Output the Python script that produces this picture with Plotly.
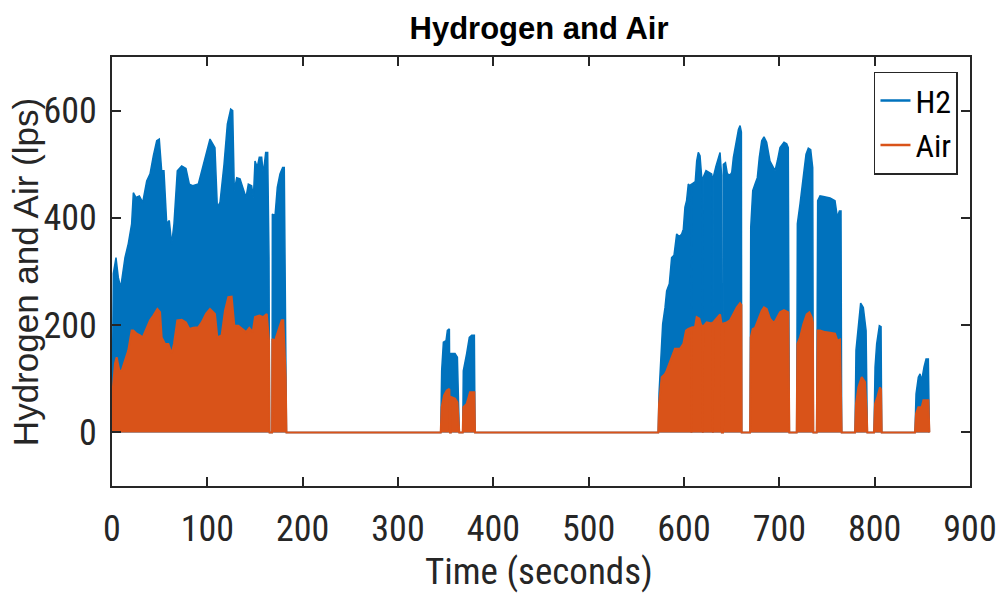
import plotly.graph_objects as go

# Hydrogen flow envelope (lps) against time (s); zeros mark idle gaps between bursts
h2_time = [
    0, 0.5, 1.4, 4.2, 6.6, 9.1, 13.6, 17.1, 20.6, 22.4, 25.2, 28.7, 32.2, 36.4, 39.9,
    43.4, 46.9, 49.6, 52.1, 54.5, 57.4, 60.1, 62.6, 65, 68.5, 73.1, 77.6, 81.1, 84.6,
    90.5, 94.1, 98.6, 102.8, 108, 110.5, 113.3, 117.5, 121, 124.5, 126.6, 128.3, 130.8,
    134.3, 137.1, 140.6, 143, 146.5, 148.3, 150, 152.4, 154.5, 157, 158.7, 161.2, 163.3,
    164.7, 165.3, 167.9, 168.2, 171, 173.4, 176.2, 179, 180.7, 182.2, 183,
    344.8, 345.8, 347.6, 350.4, 351.8, 353.9, 354.6, 355.4, 355.6, 359.8, 362.3, 364.3,
    367.9, 368.5, 372, 374.8, 377.3, 380.1, 380.8,
    573, 573.8, 575, 576.6, 577.6, 580.1, 581.8, 584.6, 587, 589.5, 590.5, 592.3, 595,
    597.6, 599.3, 601, 602.7, 604.5, 606.2, 607.5, 607.8, 608.1, 610.5, 611.5, 613.3,
    615, 616.8, 618.6, 619.4, 619.7, 620, 623.1, 625.5, 629, 630, 630.3, 630.6, 633.6,
    636, 637.8, 639.4, 639.7, 640.9, 641.3, 643.5, 645.5, 648.5, 650.1, 651.8, 654.6,
    657.1, 658.8, 660.2, 660.5,
    669.3, 670, 672.1, 674.5, 676.9, 679, 681.5, 683.9, 686.7, 690.2, 693.7, 695.5,
    697.9, 700.7, 704.9, 707.7, 709.4, 710.5,
    718.2, 718.9, 721.7, 723.5, 725.9, 728, 730.4, 732.9, 735, 735.7,
    739.2, 740.2, 742.7, 746.2, 749.7, 753.2, 758.4, 760.9, 763, 764.7, 765.4,
    779.4, 780.4, 782.9, 785.3, 788.1, 791, 792.3,
    799.3, 800.4, 802.1, 804.9, 806.7, 807.4,
    842.3, 843.4, 845.8, 847.6, 849.3, 851.8, 853.9, 856.3, 857.4,
]
h2_flow = [
    0, 150, 296, 326, 289, 270, 326, 352, 389, 447, 438, 441, 429, 469, 482,
    516, 544, 547, 488, 488, 389, 395, 351, 389, 488, 497, 492, 463, 460,
    463, 488, 519, 547, 531, 420, 429, 500, 575, 603, 600, 451, 475,
    473, 457, 438, 463, 460, 438, 506, 495, 513, 513, 482, 522, 522,
    326, 0, 0, 407, 404, 457, 482, 494, 494, 252, 0,
    0, 115, 168, 171, 190, 193, 0, 0, 147, 147, 140, 0,
    0, 115, 147, 177, 181, 181, 0,
    0, 72, 122, 165, 202, 233, 264, 277, 326, 330, 345, 370, 365,
    370, 379, 420, 432, 463, 460, 463, 0, 463, 466, 460, 506,
    522, 516, 475, 475, 0, 475, 488, 485, 482, 470, 0, 475, 497,
    513, 522, 480, 0, 0, 500, 503, 482, 480, 485, 513, 544,
    565, 572, 560, 0,
    0, 382, 451, 463, 475, 513, 544, 551, 541, 506, 494, 488,
    506, 531, 541, 538, 531, 0,
    0, 389, 426, 457, 488, 519, 530, 527, 494, 0,
    0, 432, 441, 440, 439, 437, 432, 401, 413, 413, 0,
    0, 153, 202, 241, 233, 190, 0,
    0, 122, 165, 199, 197, 0,
    0, 72, 103, 109, 97, 122, 137, 137, 0,
]

# Air flow envelope (lps) against time (s)
air_time = [
    0, 0.7, 3.1, 4.9, 7.7, 10.1, 13.6, 17.1, 20.6, 22.4, 25.9, 29.4, 32.2, 36.4, 39.9,
    43.4, 47.6, 50.4, 52.1, 55.6, 59.1, 62.6, 65, 68.5, 73.1, 77.6, 81.1, 85.3, 90.5,
    94.1, 98.6, 102.8, 108, 110.5, 115, 118.5, 122, 125.5, 128.3, 132.5, 137.1, 140.6,
    144, 147.6, 150, 154.5, 158.7, 162.3, 164.7, 165.3, 167.9, 168.2, 171, 174.5, 178,
    179.7, 182.2, 183,
    344.8, 345.8, 348.3, 351.1, 353.9, 354.6, 355.4, 355.6, 359.8, 362.3, 364.3,
    367.9, 368.5, 372, 375.5, 380.1, 380.8,
    573, 573.8, 576.6, 580.1, 581.8, 587, 590.5, 595.8, 599.3, 602.1, 604.5, 607.5,
    607.8, 608.1, 609.1, 611.5, 613.3, 616.1, 618.6, 619.4, 619.7, 620, 621, 623.8,
    629, 630, 630.3, 630.6, 632.4, 637.8, 639.4, 639.7, 640.9, 641.3, 644.8, 648.3,
    651.8, 655.3, 658.8, 660.2, 660.5,
    669.3, 670, 672.1, 674.5, 677.9, 681.5, 683.9, 686.7, 690.2, 693.7, 695.5, 697.9,
    700.7, 704.9, 709.4, 710.5,
    718.2, 718.9, 721.7, 725.2, 728.7, 731.5, 733.9, 735.2, 735.7,
    739.2, 740.2, 742.7, 747.9, 753.2, 758.4, 760.9, 763.6, 765.4,
    779.4, 780.4, 782.9, 786.4, 789.9, 791.6, 792.3,
    799.3, 800.4, 802.8, 805.6, 806.7, 807.4,
    842.3, 843.4, 845.8, 849.3, 851.1, 856.3, 857.4,
]
air_flow = [
    0, 78, 128, 140, 115, 115, 134, 153, 190, 190, 184, 181, 177, 196, 209,
    218, 230, 224, 177, 165, 165, 147, 165, 209, 210, 205, 193, 195, 196,
    205, 221, 230, 221, 177, 181, 227, 252, 253, 199, 199, 193, 187,
    195, 187, 215, 218, 215, 221, 171, 0, 0, 174, 171, 190, 209,
    209, 103, 0,
    0, 47, 69, 78, 81, 0, 0, 66, 63, 56, 0,
    0, 47, 53, 75, 75, 0,
    0, 53, 103, 109, 115, 140, 156, 156, 165, 190, 193, 195,
    0, 195, 196, 196, 215, 212, 196, 199, 0, 199, 199, 205,
    203, 205, 0, 205, 209, 220, 203, 0, 0, 203, 205, 209,
    221, 233, 241, 238, 0,
    0, 177, 193, 195, 209, 227, 233, 230, 212, 205, 207, 216,
    224, 228, 224, 0,
    0, 165, 177, 202, 220, 224, 215, 205, 0,
    0, 190, 190, 187, 186, 184, 171, 173, 0,
    0, 53, 84, 103, 94, 40, 0,
    0, 53, 66, 84, 80, 0,
    0, 35, 47, 47, 60, 60, 0,
]

x_ticks = [0, 100, 200, 300, 400, 500, 600, 700, 800, 900]
y_ticks = [0, 200, 400, 600]

H2_COLOR = "#0072BD"
AIR_COLOR = "#D95319"
AXIS_COLOR = "#262626"
CONDENSED = "Roboto Condensed, Liberation Sans, sans-serif"
REGULAR = "Liberation Sans, Arial, sans-serif"

fig = go.Figure()

fig.add_trace(go.Scatter(
    x=h2_time, y=h2_flow, mode="lines", fill="tozeroy",
    line=dict(color=H2_COLOR, width=1.5), fillcolor=H2_COLOR,
    showlegend=False, hoverinfo="skip",
))
fig.add_trace(go.Scatter(
    x=air_time, y=air_flow, mode="lines", fill="tozeroy",
    line=dict(color=AIR_COLOR, width=2), fillcolor=AIR_COLOR,
    showlegend=False, hoverinfo="skip",
))

# legend entries drawn as plain line samples
fig.add_trace(go.Scatter(x=[None], y=[None], mode="lines", name="H2",
                         line=dict(color=H2_COLOR, width=2.5)))
fig.add_trace(go.Scatter(x=[None], y=[None], mode="lines", name="Air",
                         line=dict(color=AIR_COLOR, width=2.5)))

axis_common = dict(
    showline=True, linecolor=AXIS_COLOR, linewidth=2, automargin=False,
    mirror="ticks", ticks="inside", ticklen=9, tickwidth=1.5, tickcolor=AXIS_COLOR,
    showgrid=False, zeroline=False,
    tickfont=dict(family=CONDENSED, size=36, color=AXIS_COLOR),
)

fig.update_xaxes(range=[0, 900], tickvals=x_ticks, ticklabelstandoff=10, **axis_common)
fig.update_yaxes(range=[-100, 700], tickvals=y_ticks, ticklabelstandoff=6, **axis_common)

fig.update_layout(
    width=1002, height=594,
    margin=dict(l=112, r=32, t=57, b=108),
    paper_bgcolor="white", plot_bgcolor="white",
    title=dict(
        text="<b>Hydrogen and Air</b>",
        font=dict(family=REGULAR, size=31, color="black"),
        x=(539 / 1002), xanchor="center", xref="container",
        y=1 - 28 / 594, yanchor="middle", yref="container",
    ),
    legend=dict(
        x=0.986, xanchor="right", y=0.966, yanchor="top",
        bgcolor="white", bordercolor=AXIS_COLOR, borderwidth=1.5,
        font=dict(family=CONDENSED, size=32, color="black"),
        tracegroupgap=0,
    ),
    annotations=[
        dict(text="Time (seconds)", xref="paper", yref="paper", x=0.4977, y=-0.2,
             xanchor="center", yanchor="middle", showarrow=False,
             font=dict(family=CONDENSED, size=37, color=AXIS_COLOR)),
        dict(text="Hydrogen and Air (lps)", xref="paper", yref="paper", x=-0.1, y=0.499,
             xanchor="center", yanchor="middle", showarrow=False, textangle=-90,
             font=dict(family=REGULAR, size=35, color=AXIS_COLOR)),
    ],
)

fig.write_html("out.html")
